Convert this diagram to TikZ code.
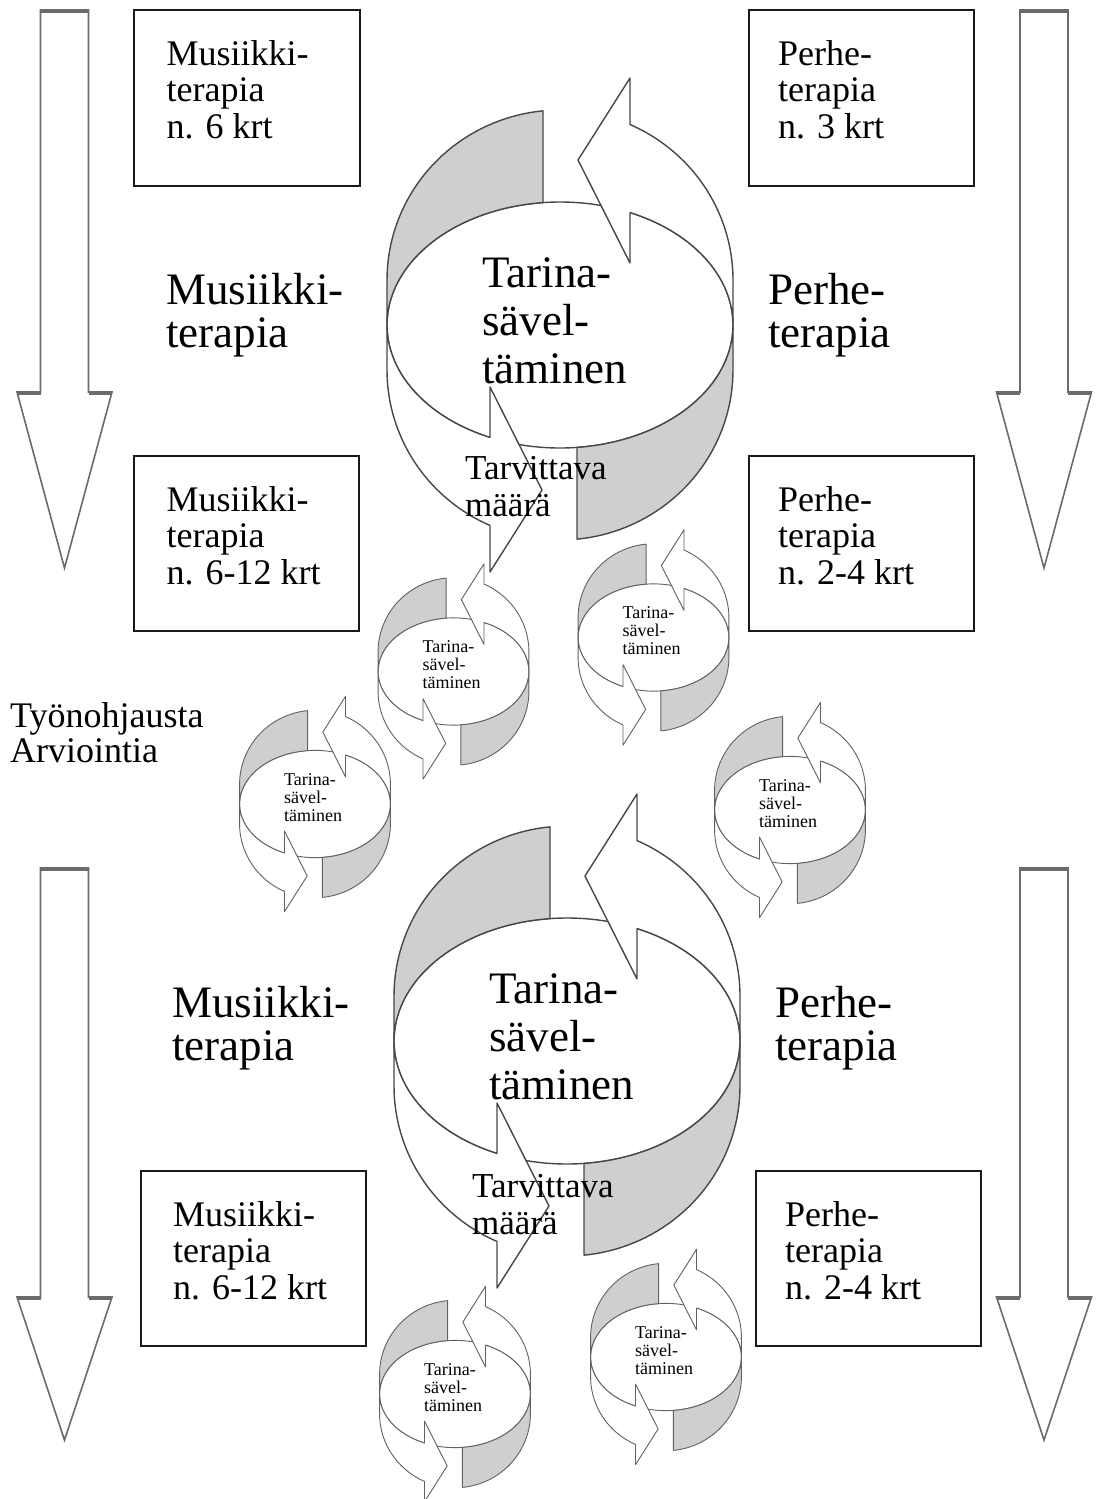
\documentclass[tikz,border=0pt]{standalone}
\usepackage{fontspec}
\setmainfont{Liberation Serif}
\begin{document}
\begin{tikzpicture}[x=1pt,y=-1pt,
  cycline/.style={draw=black!72, line width=1.4pt, line join=round},
  bandfill/.style={fill=black!19},
  whitefill/.style={fill=white},
  downarrow/.style={draw=black!58, line width=1.6pt, fill=white, line join=miter},
  arrowcap/.style={draw=black!58, line width=3.5pt},
  termbox/.style={draw=black!90, line width=1.8pt, fill=white, inner sep=0pt, anchor=north west},
  boxtext/.style={inner sep=0pt, anchor=base west, align=left, font=\fontsize{36}{36.7}\selectfont},
  biglabel/.style={inner sep=0pt, anchor=base west, align=left, font=\fontsize{45}{43}\selectfont},
  cyctext/.style={inner sep=0pt, anchor=base west, align=left, font=\fontsize{45}{48}\selectfont},
  needtext/.style={inner sep=0pt, anchor=base west, align=left, font=\fontsize{35}{37}\selectfont},
  sidetext/.style={inner sep=0pt, anchor=base west, align=left, font=\fontsize{36}{35}\selectfont},
  smalltext/.style={inner sep=0pt, anchor=base west, align=left, font=\fontsize{18}{18}\selectfont},
  pics/cyc/.style={code={
    \draw[cycline] (0,0) ellipse[x radius=173, y radius=123];
    % grey band, upper left
    \path[cycline, bandfill] (-17,-214.2)
      -- plot[domain=264.36:180, samples=40, variable=\t] ({173*cos(\t)},{-45+170*sin(\t)})
      -- (-173,-8)
      -- plot[domain=183.73:264.36, samples=40, variable=\t] ({173*cos(\t)},{123*sin(\t)})
      -- cycle;
    % grey band, lower right
    \path[cycline, bandfill] (17,214.2)
      -- plot[domain=84.36:0, samples=40, variable=\t] ({173*cos(\t)},{45+170*sin(\t)})
      -- (173,8)
      -- plot[domain=3.73:84.36, samples=40, variable=\t] ({173*cos(\t)},{123*sin(\t)})
      -- cycle;
    % white arrow, right side
    \path[cycline, whitefill] (173,8) -- (173,-45)
      -- plot[domain=360:293.87, samples=40, variable=\t] ({173*cos(\t)},{-45+170*sin(\t)})
      -- (70,-247) -- (18,-165) -- (70,-62) -- (70,-112.5)
      -- plot[domain=293.87:363.73, samples=40, variable=\t] ({173*cos(\t)},{123*sin(\t)})
      -- cycle;
    % white arrow, left side
    \path[cycline, whitefill] (-173,-8) -- (-173,45)
      -- plot[domain=180:113.87, samples=40, variable=\t] ({173*cos(\t)},{45+170*sin(\t)})
      -- (-70,247) -- (-18,165) -- (-70,62) -- (-70,112.5)
      -- plot[domain=113.87:183.73, samples=40, variable=\t] ({173*cos(\t)},{123*sin(\t)})
      -- cycle;
  }}
]
\useasboundingbox (0,0) rectangle (1095,1499);
\fill[white] (0,0) rectangle (1095,1499);

% ---------- down arrows ----------
\foreach \cx/\ty/\by/\tipy/\nm in {64.5/10/392/568/a1, 1044/10/392/568/a2, 64.5/868/1297/1440/a3, 1044/868/1297/1440/a4}{
  \draw[downarrow] (\cx-24,\ty) -- (\cx+24,\ty) -- (\cx+24,\by) -- (\cx+47.5,\by)
     -- (\cx,\tipy) -- (\cx-47.5,\by) -- (\cx-24,\by) -- cycle;
  \draw[arrowcap] (\cx-24,\ty+1) -- (\cx+24,\ty+1);
  \draw[arrowcap] (\cx-47,\by+1) -- (\cx-24,\by+1);
  \draw[arrowcap] (\cx+24,\by+1) -- (\cx+47,\by+1);
}

% ---------- boxes ----------
\node[termbox, minimum width=226pt, minimum height=176pt] (b1) at (133,9) {};
\node[termbox, minimum width=225pt, minimum height=176pt] (b2) at (748,9) {};
\node[termbox, minimum width=225pt, minimum height=175pt] (b3) at (133,455) {};
\node[termbox, minimum width=225pt, minimum height=175pt] (b4) at (748,455) {};
\node[termbox, minimum width=225pt, minimum height=175pt] (b5) at (140,1170) {};
\node[termbox, minimum width=225pt, minimum height=175pt] (b6) at (755,1170) {};

% (anchor base = baseline of the last line)
\node[boxtext] (t1) at (166.5,138.4) {Musiikki-\\terapia\\n. 6 krt};
\node[boxtext] (t2) at (778,138.4) {Perhe-\\terapia\\n. 3 krt};
\node[boxtext] (t3) at (166.5,584.4) {Musiikki-\\terapia\\n. 6-12 krt};
\node[boxtext] (t4) at (778,584.4) {Perhe-\\terapia\\n. 2-4 krt};
\node[boxtext] (t5) at (173,1299.4) {Musiikki-\\terapia\\n. 6-12 krt};
\node[boxtext] (t6) at (785,1299.4) {Perhe-\\terapia\\n. 2-4 krt};

% ---------- big cycles ----------
\pic (c1) at (560,325) {cyc};
\pic (c2) at (567,1041) {cyc};

% ---------- small cycles ----------
\begin{scope}[cycline/.style={draw=black!62, line width=0.9pt, line join=round}]
  \pic[scale=0.436] (s1) at (453.5,671.5) {cyc};
  \pic[scale=0.436] (s2) at (653.5,637.5) {cyc};
  \pic[scale=0.436] (s3) at (315,804) {cyc};
  \pic[scale=0.436] (s4) at (790,810) {cyc};
  \pic[scale=0.436] (s5) at (455,1394) {cyc};
  \pic[scale=0.436] (s6) at (666,1357) {cyc};
\end{scope}

\foreach \cx/\cy/\nm in {453.5/671.5/st1, 653.5/637.5/st2, 315/804/st3, 790/810/st4, 455/1394/st5, 666/1357/st6}{
  \node[smalltext] (\nm) at (\cx-31,\cy+17) {Tarina-\\sävel-\\täminen};
}

% ---------- texts in big cycles ----------
\node[cyctext] (c1t) at (482,383) {Tarina-\\sävel-\\täminen};
\node[needtext] (c1n) at (465,516) {Tarvittava\\määrä};
\node[cyctext] (c2t) at (489,1099) {Tarina-\\sävel-\\täminen};
\node[needtext] (c2n) at (472,1234) {Tarvittava\\määrä};

% ---------- side labels ----------
\node[biglabel] (l1) at (166,347) {Musiikki-\\terapia};
\node[biglabel] (l2) at (768,347) {Perhe-\\terapia};
\node[biglabel] (l3) at (172,1060) {Musiikki-\\terapia};
\node[biglabel] (l4) at (775,1060) {Perhe-\\terapia};
\node[sidetext] (l5) at (10,762) {Työnohjausta\\Arviointia};
\end{tikzpicture}
\end{document}
